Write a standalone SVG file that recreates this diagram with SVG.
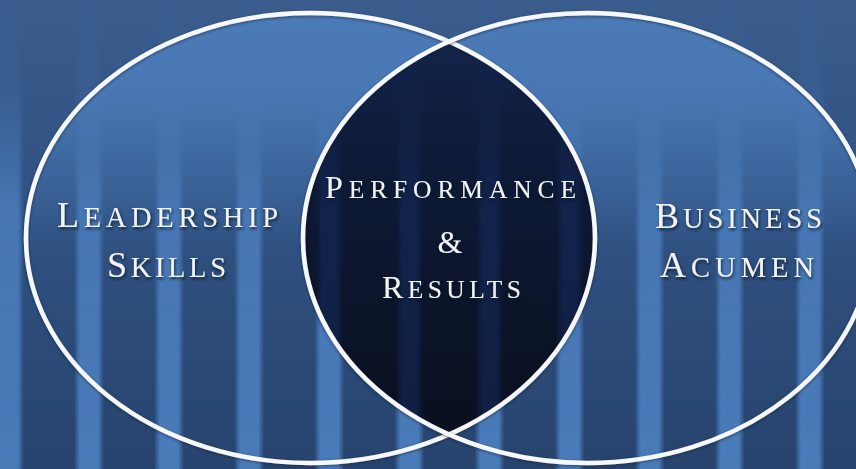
<svg xmlns="http://www.w3.org/2000/svg" width="856" height="469" viewBox="0 0 856 469">
  <style>
    .label { font-family: "Liberation Serif", "DejaVu Serif", serif; fill: #f1f3f7; filter: url(#textShadow); }
    .side { font-size: 36px; }
    .side .sc { font-size: 28.5px; text-transform: uppercase; }
    .mid { font-size: 32px; }
    .mid .sc { font-size: 25.5px; text-transform: uppercase; }
    .ring { fill: none; stroke: #f7f8fb; stroke-width: 4.5; filter: url(#ringShadow); }
  </style>
  <defs>
    <!-- base backdrop: lighter at top, deeper navy at bottom -->
    <linearGradient id="bgGrad" x1="0" y1="0" x2="0" y2="1">
      <stop offset="0" stop-color="#3a5d8e"/>
      <stop offset="0.5" stop-color="#2f5080"/>
      <stop offset="1" stop-color="#27446e"/>
    </linearGradient>
    <!-- soft-edged light column -->
    <linearGradient id="columnGrad" x1="0" y1="0" x2="1" y2="0">
      <stop offset="0" stop-color="#4a7bb9" stop-opacity="0.2"/>
      <stop offset="0.18" stop-color="#4a7bb9" stop-opacity="1"/>
      <stop offset="0.82" stop-color="#4a7bb9" stop-opacity="1"/>
      <stop offset="1" stop-color="#4a7bb9" stop-opacity="0.2"/>
    </linearGradient>
    <linearGradient id="darkColumnGrad" x1="0" y1="0" x2="1" y2="0">
      <stop offset="0" stop-color="#1a3470" stop-opacity="0"/>
      <stop offset="0.25" stop-color="#1a3470" stop-opacity="0.45"/>
      <stop offset="0.75" stop-color="#1a3470" stop-opacity="0.45"/>
      <stop offset="1" stop-color="#1a3470" stop-opacity="0"/>
    </linearGradient>
    <pattern id="columns" patternUnits="userSpaceOnUse" x="75" y="0" width="80.1" height="469">
      <rect x="0" y="0" width="28" height="469" fill="url(#columnGrad)"/>
    </pattern>
    <pattern id="darkColumns" patternUnits="userSpaceOnUse" x="75" y="0" width="80.1" height="469">
      <rect x="0" y="0" width="28" height="469" fill="url(#darkColumnGrad)"/>
    </pattern>
    <!-- columns fade out toward the top -->
    <linearGradient id="fadeGrad" x1="0" y1="0" x2="0" y2="469" gradientUnits="userSpaceOnUse">
      <stop offset="0" stop-color="#fff" stop-opacity="0"/>
      <stop offset="0.17" stop-color="#fff" stop-opacity="0.1"/>
      <stop offset="0.45" stop-color="#fff" stop-opacity="0.9"/>
      <stop offset="1" stop-color="#fff" stop-opacity="1"/>
    </linearGradient>
    <mask id="fadeMask">
      <rect x="0" y="0" width="856" height="469" fill="url(#fadeGrad)"/>
    </mask>
    <!-- light wash inside the circles, strongest at the top -->
    <linearGradient id="washGrad" x1="0" y1="0" x2="0" y2="469" gradientUnits="userSpaceOnUse">
      <stop offset="0" stop-color="#4b7bb8" stop-opacity="1"/>
      <stop offset="0.2" stop-color="#4a79b6" stop-opacity="0.95"/>
      <stop offset="0.38" stop-color="#4677b3" stop-opacity="0.45"/>
      <stop offset="0.55" stop-color="#4677b3" stop-opacity="0"/>
    </linearGradient>
    <!-- dark core of the overlap -->
    <linearGradient id="coreGrad" x1="0" y1="0" x2="0" y2="469" gradientUnits="userSpaceOnUse">
      <stop offset="0.05" stop-color="#14264c"/>
      <stop offset="0.35" stop-color="#0e1a37"/>
      <stop offset="0.7" stop-color="#0b1327"/>
      <stop offset="1" stop-color="#090e1b"/>
    </linearGradient>
    <clipPath id="leftClip">
      <ellipse cx="310.5" cy="238" rx="284.5" ry="225"/>
    </clipPath>
    <clipPath id="rightClip">
      <ellipse cx="587.5" cy="238" rx="284.5" ry="225"/>
    </clipPath>
    <filter id="textShadow" x="-10%" y="-30%" width="120%" height="170%">
      <feDropShadow dx="1" dy="2" stdDeviation="1.4" flood-color="#081226" flood-opacity="0.85"/>
    </filter>
    <filter id="ringShadow" x="-5%" y="-5%" width="110%" height="110%">
      <feDropShadow dx="0" dy="1" stdDeviation="1.6" flood-color="#0b1a33" flood-opacity="0.6"/>
    </filter>
  </defs>

  <!-- backdrop and vertical columns -->
  <rect x="0" y="0" width="856" height="469" fill="url(#bgGrad)"/>
  <rect x="0" y="0" width="856" height="469" fill="url(#columns)" mask="url(#fadeMask)"/>

  <!-- light wash inside both circles -->
  <g id="circle-wash">
    <ellipse cx="310.5" cy="238" rx="284.5" ry="225" fill="url(#washGrad)"/>
    <ellipse cx="587.5" cy="238" rx="284.5" ry="225" fill="url(#washGrad)"/>
  </g>

  <!-- overlap: Performance & Results -->
  <g id="performance-results">
    <g clip-path="url(#leftClip)">
      <ellipse cx="587.5" cy="238" rx="284.5" ry="225" fill="url(#coreGrad)"/>
      <g clip-path="url(#rightClip)">
        <rect x="0" y="0" width="856" height="469" fill="url(#darkColumns)" mask="url(#fadeMask)"/>
      </g>
    </g>
    <text class="label mid" x="325" y="198" textLength="251" lengthAdjust="spacing">P<tspan class="sc">erformance</tspan></text>
    <text class="label mid" x="450" y="253" text-anchor="middle">&amp;</text>
    <text class="label mid" x="382" y="298" textLength="139" lengthAdjust="spacing">R<tspan class="sc">esults</tspan></text>
  </g>

  <!-- circle outlines -->
  <g id="outlines">
    <ellipse class="ring" cx="310.5" cy="238" rx="284.5" ry="225"/>
    <ellipse class="ring" cx="587.5" cy="238" rx="284.5" ry="225"/>
  </g>

  <g id="leadership-skills">
    <text class="label side" x="57" y="227" textLength="221" lengthAdjust="spacing">L<tspan class="sc">eadership</tspan></text>
    <text class="label side" x="107" y="277" textLength="119" lengthAdjust="spacing">S<tspan class="sc">kills</tspan></text>
  </g>

  <g id="business-acumen">
    <text class="label side" x="655" y="228" textLength="167" lengthAdjust="spacing">B<tspan class="sc">usiness</tspan></text>
    <text class="label side" x="660" y="277" textLength="154" lengthAdjust="spacing">A<tspan class="sc">cumen</tspan></text>
  </g>
</svg>
